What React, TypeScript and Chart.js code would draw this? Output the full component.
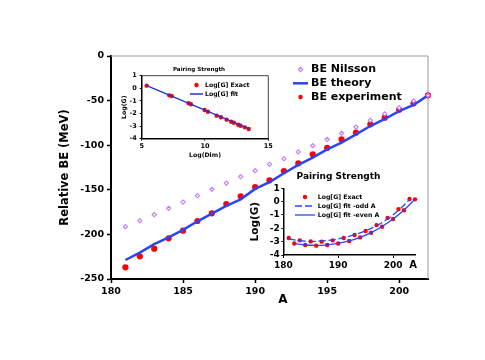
import React, { useEffect, useRef } from 'react';
import { Chart, registerables } from 'chart.js';
Chart.register(...registerables);

// ---------- Main chart data ----------
const massNumbers = [181, 182, 183, 184, 185, 186, 187, 188, 189, 190, 191, 192, 193, 194, 195, 196, 197, 198, 199, 200, 201, 202];
const beNilsson = [-191.3, -184.6, -177.9, -170.8, -163.7, -156.6, -149.5, -142.4, -135.3, -128.6, -121.4, -115.1, -107.6, -100.5, -93.6, -86.7, -79.6, -72.1, -65.0, -57.9, -50.4, -44.1];
const beTheory = [-228.7, -220.5, -211.0, -203.3, -195.0, -185.3, -176.6, -168.0, -160.7, -149.0, -141.3, -131.5, -122.0, -114.0, -104.6, -97.2, -87.8, -78.5, -70.6, -61.7, -54.9, -44.1];
const beExperiment = [-236.9, -224.6, -216.0, -204.4, -195.8, -185.0, -176.4, -165.9, -157.3, -146.9, -139.4, -128.9, -120.3, -110.2, -103.1, -93.4, -86.0, -76.6, -69.1, -60.2, -53.0, -44.1];
const mainLegendLabels = ['BE Nilsson', 'BE theory', 'BE experiment'];

// ---------- Inset 1 data (Log(G) vs Log(Dim)) ----------
const logDim = [5.39, 7.18, 7.37, 8.71, 8.89, 9.97, 10.23, 10.92, 11.26, 11.71, 12.07, 12.28, 12.62, 12.81, 13.15, 13.45];
const logGExact = [0.21, -0.56, -0.61, -1.19, -1.27, -1.72, -1.86, -2.17, -2.30, -2.49, -2.65, -2.73, -2.89, -2.97, -3.10, -3.23];
const fitLogDim = [5.4, 13.5];
const fitLogG = [0.22, -3.22];
const inset1LegendLabels = ['Log[G] Exact', 'Log[G] fit'];

// ---------- Inset 2 data (Log(G) vs A) ----------
const massAll = [181, 182, 183, 184, 185, 186, 187, 188, 189, 190, 191, 192, 193, 194, 195, 196, 197, 198, 199, 200, 201, 202, 203, 204];
const logGByMass = [-2.73, -3.14, -2.9, -3.25, -2.98, -3.3, -3.0, -3.25, -2.9, -3.14, -2.73, -2.95, -2.5, -2.68, -2.2, -2.33, -1.76, -1.88, -1.22, -1.3, -0.56, -0.64, 0.2, 0.17];
const oddA = [181, 183, 185, 187, 189, 191, 193, 195, 197, 199, 201, 203];
const logGFitOdd = [-2.8, -2.93, -2.98, -2.95, -2.86, -2.7, -2.48, -2.18, -1.8, -1.3, -0.65, 0.15];
const evenA = [182, 184, 186, 188, 190, 192, 194, 196, 198, 200, 202, 204];
const logGFitEven = [-3.15, -3.25, -3.28, -3.24, -3.13, -2.95, -2.68, -2.32, -1.86, -1.3, -0.62, 0.18];
const inset2LegendLabels = ['Log[G] Exact', 'Log[G] fit -odd A', 'Log[G] fit -even A'];

const FAMILY = 'DejaVu Sans';
const RED = '#ff0000';
const BLUE = '#2a45f5';
const VIOLET = '#c878ff';
const bf = (size: number) => ({ family: FAMILY, size, weight: 'bold' as const });

const pts = (xs: number[], ys: number[]) => xs.map((x, i) => ({ x, y: ys[i] }));

type LegendItem = { label: string; kind: 'dot' | 'diamond' | 'line' | 'dash'; color: string; y: number };

function drawLegend(ctx: CanvasRenderingContext2D, items: LegendItem[], symX: number, symHalf: number, textX: number, fontSize: number, dotR: number, lw: number) {
  ctx.save();
  ctx.font = `bold ${fontSize}px "${FAMILY}"`;
  ctx.textBaseline = 'middle';
  ctx.textAlign = 'left';
  for (const it of items) {
    if (it.kind === 'dot') {
      ctx.fillStyle = it.color;
      ctx.beginPath();
      ctx.arc(symX, it.y, dotR, 0, Math.PI * 2);
      ctx.fill();
    } else if (it.kind === 'diamond') {
      ctx.strokeStyle = it.color;
      ctx.lineWidth = 1.1;
      ctx.beginPath();
      ctx.moveTo(symX, it.y - dotR);
      ctx.lineTo(symX + dotR, it.y);
      ctx.lineTo(symX, it.y + dotR);
      ctx.lineTo(symX - dotR, it.y);
      ctx.closePath();
      ctx.stroke();
    } else {
      ctx.strokeStyle = it.color;
      ctx.lineWidth = lw;
      ctx.setLineDash(it.kind === 'dash' ? [7, 3] : []);
      ctx.beginPath();
      ctx.moveTo(symX - symHalf, it.y);
      ctx.lineTo(symX + symHalf, it.y);
      ctx.stroke();
      ctx.setLineDash([]);
    }
    ctx.fillStyle = '#000';
    ctx.fillText(it.label, textX, it.y);
  }
  ctx.restore();
}

function frameTopRight(chart: any, color: string, width: number) {
  const { ctx, chartArea: a } = chart;
  ctx.save();
  ctx.strokeStyle = color;
  ctx.lineWidth = width;
  ctx.beginPath();
  ctx.moveTo(a.left, a.top);
  ctx.lineTo(a.right, a.top);
  ctx.lineTo(a.right, a.bottom);
  ctx.stroke();
  ctx.restore();
}

function axisOpts(o: any) {
  return {
    type: 'linear',
    min: o.min,
    max: o.max,
    afterFit: o.afterFit,
    border: { display: true, color: '#000', width: o.bw },
    grid: { drawOnChartArea: false, drawTicks: true, tickLength: o.tl, tickColor: '#000', tickWidth: o.tw },
    ticks: { stepSize: o.step, includeBounds: false, color: '#000', font: bf(o.fs), padding: o.pad, maxRotation: 0, autoSkip: false },
    title: o.title
      ? { display: true, text: o.title, color: '#000', font: bf(o.tfs), padding: o.tpad }
      : { display: false },
  };
}

export default function App() {
  const mainRef = useRef<HTMLCanvasElement>(null);
  const in1Ref = useRef<HTMLCanvasElement>(null);
  const in2Ref = useRef<HTMLCanvasElement>(null);

  useEffect(() => {
    const charts: Chart[] = [];

    // ---------- Main chart ----------
    const mainPlugin = {
      id: 'mainDecor',
      beforeDatasetsDraw(chart: any) {
        frameTopRight(chart, '#9a9a9a', 1);
      },
      afterDraw(chart: any) {
        const ctx = chart.ctx as CanvasRenderingContext2D;
        drawLegend(ctx, [
          { label: mainLegendLabels[0], kind: 'diamond', color: VIOLET, y: 69.5 },
          { label: mainLegendLabels[1], kind: 'line', color: BLUE, y: 83.3 },
          { label: mainLegendLabels[2], kind: 'dot', color: RED, y: 97 },
        ], 300.5, 7.5, 311, 11, 2.2, 2.5);
        ctx.save();
        ctx.font = `bold 12px "${FAMILY}"`;
        ctx.fillStyle = '#000';
        ctx.textAlign = 'center';
        ctx.textBaseline = 'middle';
        ctx.fillText('A', 283, 300);
        ctx.restore();
      },
    };
    charts.push(new Chart(mainRef.current!, {
      type: 'scatter',
      data: {
        datasets: [
          {
            label: mainLegendLabels[0], data: pts(massNumbers, beNilsson), pointStyle: 'rectRot', pointRadius: 2.1,
            borderColor: VIOLET, backgroundColor: '#ffffff', pointBorderWidth: 1.1, showLine: false, clip: false,
          },
          {
            label: mainLegendLabels[1], data: pts(massNumbers, beTheory), showLine: true, borderColor: BLUE, borderWidth: 2.5,
            pointRadius: 0, tension: 0, clip: false,
          },
          {
            label: mainLegendLabels[2], data: pts(massNumbers, beExperiment), pointStyle: 'circle', pointRadius: 3.1,
            backgroundColor: RED, borderColor: RED, borderWidth: 0, showLine: false, clip: false,
          },
        ],
      },
      options: {
        animation: false, responsive: false, events: [],
        layout: { padding: { top: 56, right: 57, left: 0, bottom: 0 } },
        plugins: { legend: { display: false }, tooltip: { enabled: false }, title: { display: false } },
        scales: {
          x: axisOpts({ min: 180, max: 202, step: 5, bw: 2, tl: 4, tw: 1.5, fs: 9.5, pad: 3, afterFit: (s: any) => { s.height = 81; } }),
          y: axisOpts({ min: -250, max: 0, step: 50, bw: 2, tl: 4, tw: 1.5, fs: 9.5, pad: 3, title: 'Relative BE (MeV)', tfs: 11.5, tpad: { top: 58, bottom: 0 }, afterFit: (s: any) => { s.width = 111; } }),
        },
      } as any,
      plugins: [mainPlugin],
    }));

    // ---------- Inset 1 ----------
    const in1Plugin = {
      id: 'in1Decor',
      beforeDatasetsDraw(chart: any) {
        frameTopRight(chart, '#444', 1);
      },
      afterDraw(chart: any) {
        const ctx = chart.ctx as CanvasRenderingContext2D;
        ctx.save();
        ctx.font = `bold 5.6px "${FAMILY}"`;
        ctx.fillStyle = '#000';
        ctx.textAlign = 'center';
        ctx.textBaseline = 'middle';
        ctx.fillText('Pairing Strength', 87, 10);
        ctx.restore();
        drawLegend(ctx, [
          { label: inset1LegendLabels[0], kind: 'dot', color: RED, y: 25 },
          { label: inset1LegendLabels[1], kind: 'line', color: '#2233cc', y: 34 },
        ], 84.5, 6.5, 93, 6.2, 2.2, 1.5);
      },
    };
    charts.push(new Chart(in1Ref.current!, {
      type: 'scatter',
      data: {
        datasets: [
          {
            label: inset1LegendLabels[1], data: pts(fitLogDim, fitLogG), showLine: true, borderColor: '#2233cc', borderWidth: 1.3,
            pointRadius: 0, clip: false,
          },
          {
            label: inset1LegendLabels[0], data: pts(logDim, logGExact), pointRadius: 2.2, backgroundColor: RED, borderColor: RED,
            borderWidth: 0, showLine: false, clip: false,
          },
        ],
      },
      options: {
        animation: false, responsive: false, events: [],
        layout: { padding: { top: 15.7, right: 8.7, left: 0, bottom: 0 } },
        plugins: { legend: { display: false }, tooltip: { enabled: false } },
        scales: {
          x: axisOpts({ min: 5, max: 15, step: 5, bw: 1.5, tl: 2, tw: 1, fs: 6.5, pad: 2, title: 'Log(Dim)', tfs: 6.2, tpad: { top: 0, bottom: 5.4 }, afterFit: (s: any) => { s.height = 26.3; } }),
          y: axisOpts({ min: -4, max: 1, step: 1, bw: 1.5, tl: 2, tw: 1, fs: 6.5, pad: 3, title: 'Log(G)', tfs: 6.2, tpad: { top: 8.7, bottom: 0 }, afterFit: (s: any) => { s.width = 29.7; } }),
        },
      } as any,
      plugins: [in1Plugin],
    }));

    // ---------- Inset 2 ----------
    const in2Plugin = {
      id: 'in2Decor',
      afterDraw(chart: any) {
        const ctx = chart.ctx as CanvasRenderingContext2D;
        ctx.save();
        ctx.fillStyle = '#000';
        ctx.textAlign = 'center';
        ctx.textBaseline = 'middle';
        ctx.font = `bold 9px "${FAMILY}"`;
        ctx.fillText('Pairing Strength', 98.5, 9);
        ctx.font = `bold 10px "${FAMILY}"`;
        ctx.fillText('A', 173, 97);
        ctx.restore();
        drawLegend(ctx, [
          { label: inset2LegendLabels[0], kind: 'dot', color: RED, y: 29 },
          { label: inset2LegendLabels[1], kind: 'dash', color: BLUE, y: 38 },
          { label: inset2LegendLabels[2], kind: 'line', color: BLUE, y: 47 },
        ], 65, 10, 77.7, 6.2, 2.2, 1.3);
      },
    };
    charts.push(new Chart(in2Ref.current!, {
      type: 'scatter',
      data: {
        datasets: [
          {
            label: inset2LegendLabels[1], data: pts(oddA, logGFitOdd), showLine: true, borderColor: BLUE, borderWidth: 1.3,
            borderDash: [7, 3], pointRadius: 0, tension: 0.4, clip: false,
          },
          {
            label: inset2LegendLabels[2], data: pts(evenA, logGFitEven), showLine: true, borderColor: BLUE, borderWidth: 1.3,
            pointRadius: 0, tension: 0.4, clip: false,
          },
          {
            label: inset2LegendLabels[0], data: pts(massAll, logGByMass), pointRadius: 2.2, backgroundColor: RED, borderColor: RED,
            borderWidth: 0, showLine: false, clip: false,
          },
        ],
      },
      options: {
        animation: false, responsive: false, events: [],
        layout: { padding: { top: 20.3, right: 15, left: 0, bottom: 0 } },
        plugins: { legend: { display: false }, tooltip: { enabled: false } },
        scales: {
          x: axisOpts({ min: 180, max: 204, step: 10, bw: 1.5, tl: 3, tw: 1, fs: 9, pad: 2.5, afterFit: (s: any) => { s.height = 18; } }),
          y: axisOpts({ min: -4, max: 1, step: 1, bw: 1.5, tl: 2, tw: 1, fs: 9, pad: 1.5, title: 'Log(G)', tfs: 10.5, tpad: { top: 9.4, bottom: 0 }, afterFit: (s: any) => { s.width = 43.3; } }),
        },
      } as any,
      plugins: [in2Plugin],
    }));

    return () => { charts.forEach((c) => c.destroy()); };
  }, []);

  const abs = (left: number, top: number, w: number, h: number): React.CSSProperties => ({
    position: 'absolute', left, top, width: w, height: h, display: 'block',
  });

  return (
    <div style={{ position: 'fixed', left: 0, top: 0, width: 485, height: 360, background: '#fff', overflow: 'hidden' }}>
      <canvas ref={mainRef} width={485} height={360} style={abs(0, 0, 485, 360)} />
      <canvas ref={in1Ref} width={165} height={105} style={abs(112, 60, 165, 105)} />
      <canvas ref={in2Ref} width={190} height={105} style={abs(240, 168, 190, 105)} />
    </div>
  );
}
